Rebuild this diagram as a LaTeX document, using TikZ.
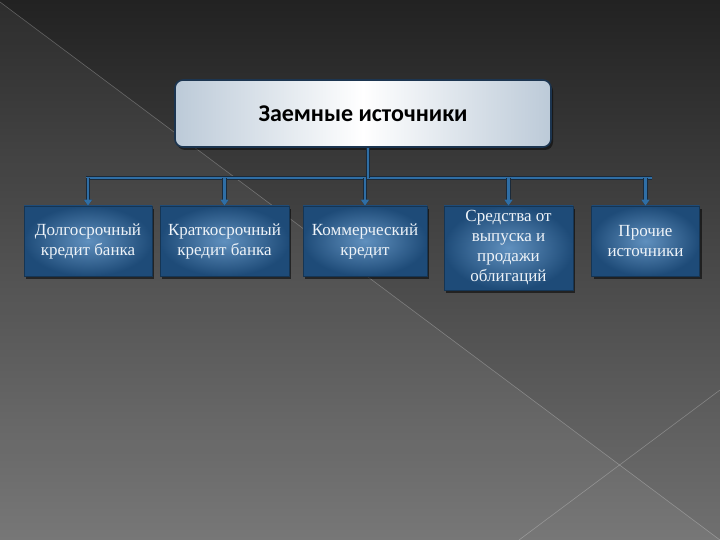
\documentclass[tikz,border=0pt]{standalone}
\usepackage{fontspec}
\setmainfont{Liberation Serif}
\newfontfamily\titlefont{Carlito}
\usetikzlibrary{arrows.meta,shadows}
\definecolor{bgtop}{HTML}{222222}
\definecolor{bgbot}{HTML}{707070}
\definecolor{connblue}{HTML}{2F6EA5}
\definecolor{conndark}{HTML}{1A2A3A}
\definecolor{boxin}{HTML}{6090BE}
\definecolor{boxout}{HTML}{1E4B78}
\definecolor{boxtext}{HTML}{EEF3F8}
\definecolor{rootedge}{HTML}{1C3550}
\definecolor{rootside}{HTML}{BCCAD8}
\tikzset{
  leaf/.style={rectangle, minimum height=70pt, inner sep=1pt, align=center,
    inner color=boxin, outer color=boxout, draw=boxout!70!black, line width=0.6pt,
    text=boxtext, font=\fontsize{17}{20}\selectfont,
    drop shadow={shadow xshift=2pt, shadow yshift=-3pt, fill=black, opacity=0.55}},
  rootbox/.style={rectangle, rounded corners=8pt, minimum width=376pt, minimum height=67pt,
    left color=rootside, right color=rootside, middle color=white,
    draw=rootedge, line width=1.6pt, font=\titlefont\bfseries\fontsize{24}{28}\selectfont,
    drop shadow={shadow xshift=2pt, shadow yshift=-3pt, fill=black, opacity=0.5}},
  conn/.style={draw=connblue, line width=2.4pt,
    preaction={draw=conndark, line width=4.2pt}},
  tip/.style={-{Triangle[width=8pt,length=6pt]}}
}
\begin{document}
\begin{tikzpicture}[x=1pt,y=-1pt]
\useasboundingbox (0,0) rectangle (720,540);
% background
\fill[top color=bgtop, bottom color=bgbot] (0,0) rectangle (720,540);
\fill[white, opacity=0.05] (0,2) -- (720,540) -- (0,540) -- cycle;
\draw[white, opacity=0.25, line width=0.6pt] (0,2) -- (720,540);
\draw[white, opacity=0.25, line width=0.6pt] (720,390) -- (519,540);
% nodes
\node[rootbox] (root) at (363,113.5) {Заемные источники};
\node[leaf, minimum width=128pt] (b1) at (88,241) {Долгосрочный\\кредит банка};
\node[leaf, minimum width=129pt] (b2) at (224.5,241) {Краткосрочный\\кредит банка};
\node[leaf, minimum width=124pt] (b3) at (365,241) {Коммерческий\\кредит};
\node[leaf, minimum width=129pt, minimum height=84pt] (b4) at (508.5,248) {Средства от\\выпуска и\\продажи\\облигаций};
\node[leaf, minimum width=108pt] (b5) at (645.5,241) {Прочие\\источники};
\coordinate (bus) at (368,178);
\coordinate (busL) at (86,178);
\coordinate (busR) at (652,178);
% connectors
\draw[conn] (busL) -- (busR);
\draw[conn] (root.south -| bus) -- (bus);
\foreach \n in {b1,b2,b3,b4,b5}{
  \draw[conn, tip] (\n.north |- bus) -- (\n.north);
}
\end{tikzpicture}
\end{document}
